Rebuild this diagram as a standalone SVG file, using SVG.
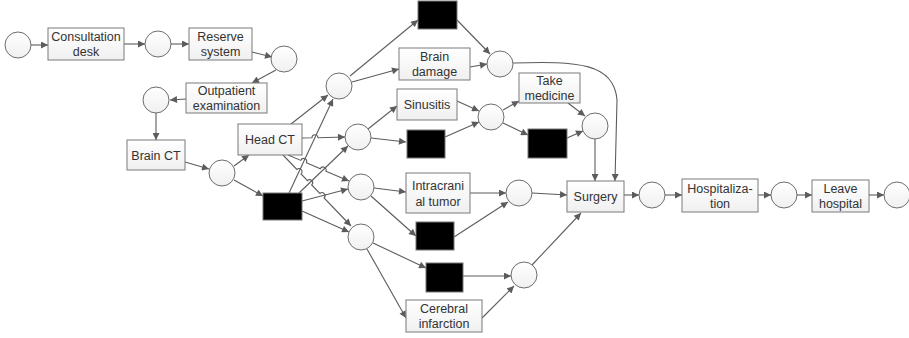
<svg xmlns="http://www.w3.org/2000/svg" width="909" height="338" viewBox="0 0 909 338">
  <defs>
    <linearGradient id="fillGrad" x1="0" y1="0" x2="0" y2="1">
      <stop offset="0" stop-color="#ffffff"/>
      <stop offset="1" stop-color="#f0f0f0"/>
    </linearGradient>
    <marker id="arr" viewBox="0 0 10 10" refX="10" refY="5" markerWidth="9" markerHeight="7" orient="auto" markerUnits="userSpaceOnUse">
      <path d="M0,0 L10,5 L0,10 z" fill="#5c5c5c"/>
    </marker>
    <style>
      .place { fill: url(#fillGrad); stroke: #6e6e6e; stroke-width: 1; }
      .trans { fill: url(#fillGrad); stroke: #7a7a7a; stroke-width: 1; }
      .silent { fill: #000000; stroke: #777777; stroke-width: 1; }
      .lbl { font-family: "Liberation Sans", Arial, sans-serif; font-size: 12.5px; fill: #333333; text-anchor: middle; }
      .edge { fill: none; stroke: #5c5c5c; stroke-width: 1.1; marker-end: url(#arr); }
    </style>
  </defs>

  <rect x="0" y="0" width="909" height="338" fill="#ffffff"/>

  <!-- connectors -->
  <g id="connectors">
    <path class="edge" d="M31,45 L48,45"/>
    <path class="edge" d="M124,44 L145,44"/>
    <path class="edge" d="M171,44 L189,44"/>
    <path class="edge" d="M252,52 L272,57"/>
    <path class="edge" d="M276,70 L252,83"/>
    <path class="edge" d="M186,99 L170,100"/>
    <path class="edge" d="M156,113 L156,140"/>
    <path class="edge" d="M185,162 L209,169"/>
    <path class="edge" d="M234,166 L249,155"/>
    <path class="edge" d="M234,180 L263,196"/>

    <!-- Head CT outputs (with line hops) -->
    <path class="edge" d="M291,124 L328,95"/>
    <path class="edge" d="M302,138 L312,137.8 A3,3 0 0 1 318,137.7 L345,137"/>
    <path class="edge" d="M288,155 L300.8,160.4 A3,3 0 0 1 306.4,162.8 L320.3,168.8 A3,3 0 0 1 325.9,171.2 L349,181"/>
    <path class="edge" d="M283,155 L296.9,169.5 A3,3 0 0 1 301.1,173.9 L307.5,180.6 A3,3 0 0 1 311.7,185 L319.9,193.5 A3,3 0 0 1 324.1,197.9 L351,226"/>

    <!-- silent transition outputs -->
    <path class="edge" d="M289,193 L333,99"/>
    <path class="edge" d="M299,193 L348,146"/>
    <path class="edge" d="M302,201 L348,189"/>
    <path class="edge" d="M302,211 L349,232"/>

    <!-- brain damage branch -->
    <path class="edge" d="M350,76 L418,20"/>
    <path class="edge" d="M352,82 L399,69"/>
    <path class="edge" d="M457,20 L490,54"/>
    <path class="edge" d="M470,67 L487,64"/>
    <path class="edge" d="M513,63 C578,61 614,63 617,100 L615,181"/>

    <!-- sinusitis branch -->
    <path class="edge" d="M368,129 L397,106"/>
    <path class="edge" d="M371,138 L406,142"/>
    <path class="edge" d="M457,101 L479,111"/>
    <path class="edge" d="M445,137 L479,122"/>
    <path class="edge" d="M503,110 L519,101"/>
    <path class="edge" d="M503,123 L528,135"/>
    <path class="edge" d="M568,103 L585,116"/>
    <path class="edge" d="M567,138 L583,131"/>
    <path class="edge" d="M595,139 L595,181"/>

    <!-- intracranial tumor branch -->
    <path class="edge" d="M374,188 L406,192"/>
    <path class="edge" d="M371,196 L416,236"/>
    <path class="edge" d="M470,193 L506,193"/>
    <path class="edge" d="M454,237 L508,202"/>
    <path class="edge" d="M532,193 L567,195"/>

    <!-- cerebral infarction branch -->
    <path class="edge" d="M373,243 L426,268"/>
    <path class="edge" d="M367,249 L406,318"/>
    <path class="edge" d="M463,276 L511,276"/>
    <path class="edge" d="M482,318 L514,286"/>
    <path class="edge" d="M532,265 L581,213"/>

    <!-- discharge chain -->
    <path class="edge" d="M624,195 L639,195"/>
    <path class="edge" d="M665,195 L682,195"/>
    <path class="edge" d="M758,195 L771,195"/>
    <path class="edge" d="M797,195 L812,195"/>
    <path class="edge" d="M869,195 L884,195"/>
  </g>

  <!-- places -->
  <g id="p-start"><circle class="place" cx="18" cy="45" r="13"/></g>
  <g id="p-desk"><circle class="place" cx="158" cy="44" r="13"/></g>
  <g id="p-reserve"><circle class="place" cx="284" cy="59" r="13"/></g>
  <g id="p-outpatient"><circle class="place" cx="156" cy="100" r="13"/></g>
  <g id="p-braincT"><circle class="place" cx="222" cy="173" r="13"/></g>
  <g id="p-damage-in"><circle class="place" cx="339" cy="86" r="13"/></g>
  <g id="p-sinus-in"><circle class="place" cx="358" cy="137" r="13"/></g>
  <g id="p-tumor-in"><circle class="place" cx="361" cy="187" r="13"/></g>
  <g id="p-infarct-in"><circle class="place" cx="361" cy="237" r="13"/></g>
  <g id="p-damage-out"><circle class="place" cx="500" cy="64" r="13"/></g>
  <g id="p-sinus-mid"><circle class="place" cx="491" cy="117" r="13"/></g>
  <g id="p-sinus-out"><circle class="place" cx="595" cy="126" r="13"/></g>
  <g id="p-tumor-out"><circle class="place" cx="519" cy="193" r="13"/></g>
  <g id="p-infarct-out"><circle class="place" cx="524" cy="275" r="13"/></g>
  <g id="p-surgery"><circle class="place" cx="652" cy="195" r="13"/></g>
  <g id="p-hosp"><circle class="place" cx="784" cy="195" r="13"/></g>
  <g id="p-end"><circle class="place" cx="897" cy="195" r="13"/></g>

  <!-- transitions -->
  <g id="t-consultation">
    <rect class="trans" x="48" y="28" width="76" height="32"/>
    <text class="lbl" x="86" y="41">Consultation</text>
    <text class="lbl" x="86" y="56">desk</text>
  </g>
  <g id="t-reserve">
    <rect class="trans" x="189" y="28" width="63" height="32"/>
    <text class="lbl" x="220.5" y="41">Reserve</text>
    <text class="lbl" x="220.5" y="56">system</text>
  </g>
  <g id="t-outpatient">
    <rect class="trans" x="186" y="83" width="81" height="30"/>
    <text class="lbl" x="226.5" y="95">Outpatient</text>
    <text class="lbl" x="226.5" y="110">examination</text>
  </g>
  <g id="t-brainct">
    <rect class="trans" x="127" y="140" width="58" height="30"/>
    <text class="lbl" x="156" y="159.5">Brain CT</text>
  </g>
  <g id="t-headct">
    <rect class="trans" x="238" y="124" width="64" height="31"/>
    <text class="lbl" x="270" y="144">Head CT</text>
  </g>
  <g id="t-damage">
    <rect class="trans" x="399" y="48" width="71" height="32"/>
    <text class="lbl" x="434.5" y="61">Brain</text>
    <text class="lbl" x="434.5" y="76">damage</text>
  </g>
  <g id="t-sinusitis">
    <rect class="trans" x="397" y="89" width="60" height="31"/>
    <text class="lbl" x="427" y="109">Sinusitis</text>
  </g>
  <g id="t-medicine">
    <rect class="trans" x="519" y="73" width="61" height="30"/>
    <text class="lbl" x="549.5" y="85">Take</text>
    <text class="lbl" x="549.5" y="100">medicine</text>
  </g>
  <g id="t-tumor">
    <rect class="trans" x="406" y="173" width="64" height="40"/>
    <text class="lbl" x="438" y="190">Intracrani</text>
    <text class="lbl" x="438" y="206">al tumor</text>
  </g>
  <g id="t-infarct">
    <rect class="trans" x="406" y="300" width="76" height="32"/>
    <text class="lbl" x="444" y="313">Cerebral</text>
    <text class="lbl" x="444" y="328">infarction</text>
  </g>
  <g id="t-surgery">
    <rect class="trans" x="567" y="181" width="57" height="31"/>
    <text class="lbl" x="595.5" y="201">Surgery</text>
  </g>
  <g id="t-hospitalization">
    <rect class="trans" x="682" y="179" width="76" height="33"/>
    <text class="lbl" x="720" y="193">Hospitaliza-</text>
    <text class="lbl" x="720" y="208">tion</text>
  </g>
  <g id="t-leave">
    <rect class="trans" x="812" y="180" width="57" height="32"/>
    <text class="lbl" x="840.5" y="193">Leave</text>
    <text class="lbl" x="840.5" y="208">hospital</text>
  </g>

  <!-- silent transitions -->
  <g id="s-headct-skip"><rect class="silent" x="263" y="193" width="39" height="27"/></g>
  <g id="s-damage-skip"><rect class="silent" x="418" y="1" width="39" height="28"/></g>
  <g id="s-sinus-skip"><rect class="silent" x="407" y="130" width="38" height="28"/></g>
  <g id="s-medicine-skip"><rect class="silent" x="528" y="129" width="39" height="29"/></g>
  <g id="s-tumor-skip"><rect class="silent" x="416" y="222" width="38" height="28"/></g>
  <g id="s-infarct-skip"><rect class="silent" x="426" y="263" width="37" height="29"/></g>
</svg>
